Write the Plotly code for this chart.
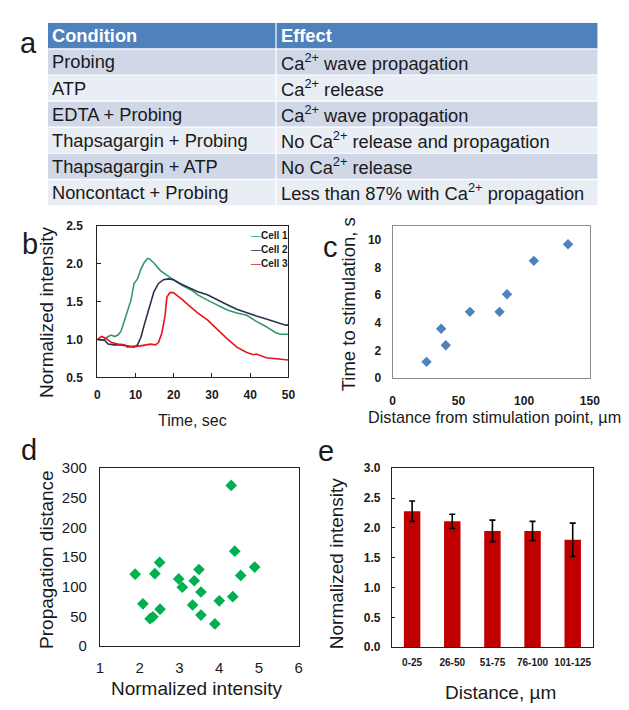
import plotly.graph_objects as go

W, H = 629, 710

# ---------------- data ----------------
table_header = ["Condition", "Effect"]
conditions = ["Probing", "ATP", "EDTA + Probing", "Thapsagargin + Probing",
              "Thapsagargin + ATP", "Noncontact + Probing"]
effects = ["Ca<sup>2+</sup> wave propagation", "Ca<sup>2+</sup> release",
           "Ca<sup>2+</sup> wave propagation", "No Ca<sup>2+</sup> release and propagation",
           "No Ca<sup>2+</sup> release", "Less than 87% with Ca<sup>2+</sup> propagation"]

series_names = ["Cell 1", "Cell 2", "Cell 3"]
cell1_t = [0, 1.5, 2.8, 3.7, 4.5, 5.4, 6.2, 7.1, 7.9, 8.8, 9.6, 10.5, 11.4, 12.2, 13.1, 13.5,
           14.8, 16.5, 19.0, 22.4, 25.0, 26.3, 28.8, 31.4, 34.0, 36.5, 39.1, 41.6, 44.2, 46.7, 48.0, 50]
cell1_v = [1.00, 0.99, 1.04, 1.06, 1.04, 1.06, 1.11, 1.26, 1.39, 1.52, 1.74, 1.80, 1.93, 2.01, 2.07, 2.07,
           2.01, 1.91, 1.82, 1.71, 1.64, 1.59, 1.52, 1.45, 1.39, 1.35, 1.32, 1.24, 1.17, 1.09, 1.07, 1.07]
cell2_t = [0, 1.9, 2.8, 4.5, 6.2, 7.9, 9.6, 10.5, 11.4, 12.2, 13.1, 13.9, 14.8, 16.0, 17.3, 18.6,
           19.9, 21.6, 23.7, 26.3, 28.8, 31.4, 34.0, 36.5, 39.1, 41.6, 44.2, 46.7, 49.3, 50]
cell2_v = [1.00, 0.99, 0.94, 0.93, 0.93, 0.91, 0.90, 0.93, 1.03, 1.18, 1.33, 1.48, 1.63, 1.74, 1.79, 1.80,
           1.79, 1.74, 1.69, 1.63, 1.59, 1.52, 1.46, 1.40, 1.35, 1.31, 1.27, 1.23, 1.19, 1.19]
cell3_t = [0, 1.1, 2.4, 3.7, 5.4, 7.1, 7.9, 9.2, 10.5, 12.2, 13.9, 15.2, 16.0, 16.9, 17.7, 18.2,
           19.0, 19.9, 21.2, 22.4, 23.7, 26.3, 28.8, 31.4, 34.0, 36.5, 39.1, 40.8, 41.6, 44.2, 46.7, 49.3, 50]
cell3_v = [1.00, 1.04, 1.01, 0.96, 0.94, 0.93, 0.90, 0.91, 0.91, 0.93, 0.94, 0.93, 0.96, 1.09, 1.31, 1.56,
           1.62, 1.62, 1.57, 1.52, 1.46, 1.35, 1.26, 1.13, 1.01, 0.90, 0.83, 0.80, 0.81, 0.76, 0.75, 0.73, 0.73]

c_distance = [25.8, 36.9, 40.4, 58.8, 81.3, 87.0, 107.4, 133.4]
c_time = [1.18, 3.58, 2.38, 4.8, 4.8, 6.07, 8.49, 9.69]

d_intensity = [1.885, 2.08, 2.26, 2.33, 2.38, 2.50, 2.51, 2.98, 3.07, 3.33, 3.37, 3.49, 3.54, 3.54,
               3.89, 4.00, 4.30, 4.34, 4.39, 4.54, 4.89]
d_distance = [121, 71, 46, 49, 122, 141, 62, 113, 99, 69, 110, 129, 91, 52,
              37, 76, 271, 83, 160, 119, 133]

e_categories = ["0-25", "26-50", "51-75", "76-100", "101-125"]
e_values = [2.28, 2.11, 1.95, 1.95, 1.80]
e_errors = [0.17, 0.12, 0.18, 0.16, 0.28]

# ---------------- style ----------------
FONT = "Liberation Sans, Arial, sans-serif"
TXT = "#1a1a1a"
line_colors = ["#2f9a68", "#2a3150", "#e8141c"]


def px_x(x):
    return x / W


def px_y(y):
    return 1 - y / H


fig = go.Figure()

# panel b
for name, t, v, col in zip(series_names, [cell1_t, cell2_t, cell3_t],
                           [cell1_v, cell2_v, cell3_v], line_colors):
    fig.add_trace(go.Scatter(x=t, y=v, mode="lines", name=name,
                             line=dict(color=col, width=1.6), xaxis="x", yaxis="y",
                             showlegend=False))

# panel c
fig.add_trace(go.Scatter(x=c_distance, y=c_time, mode="markers",
                         marker=dict(symbol="diamond", size=8, color="#4f81bd"),
                         xaxis="x2", yaxis="y2", showlegend=False))

# panel d
fig.add_trace(go.Scatter(x=d_intensity, y=d_distance, mode="markers",
                         marker=dict(symbol="diamond", size=9, color="#00b050"),
                         xaxis="x3", yaxis="y3", showlegend=False))

# panel e
fig.add_trace(go.Bar(x=e_categories, y=e_values, width=0.41,
                     marker=dict(color="#c00000", line=dict(width=0)),
                     error_y=dict(type="data", array=e_errors, visible=True,
                                  color="black", thickness=1.6, width=3),
                     xaxis="x4", yaxis="y4", showlegend=False))


def axis(domain, anchor, **kw):
    d = dict(domain=domain, anchor=anchor, showgrid=False, zeroline=False,
             showline=True, mirror=True, linecolor="#222", linewidth=1.2,
             ticks="", tickfont=dict(family=FONT, size=12, color=TXT))
    d.update(kw)
    return d


bold12 = dict(family=FONT, size=12, color=TXT, weight="bold")

layout = dict(
    width=W, height=H, margin=dict(l=0, r=0, t=0, b=0),
    paper_bgcolor="white", plot_bgcolor="white",
    font=dict(family=FONT, color=TXT),
    # b
    xaxis=axis([px_x(87.3), px_x(282.7)], "y", range=[0, 50], dtick=10,
               ticks="inside", ticklen=4, tickcolor="#222", tickfont=bold12,
               ticklabelstandoff=6),
    yaxis=axis([px_y(369.3), px_y(214)], "x", range=[0.5, 2.5], dtick=0.5,
               tickformat=".1f", ticks="inside", ticklen=4, tickcolor="#222",
               tickfont=bold12, ticklabelstandoff=11),
    # c
    xaxis2=axis([px_x(389.3), px_x(591)], "y2", range=[0, 150], dtick=50,
                linecolor="#8a8a8a", linewidth=1, tickfont=bold12, ticklabelstandoff=11),
    yaxis2=axis([px_y(370), px_y(214.3)], "x2", range=[0, 11], tickvals=[0, 2, 4, 6, 8, 10],
                linecolor="#8a8a8a", linewidth=1, tickfont=bold12, ticklabelstandoff=8),
    # d
    xaxis3=axis([px_x(90), px_x(293.3)], "y3", range=[1, 6], dtick=1,
                tickfont=dict(family=FONT, size=15, color=TXT), ticklabelstandoff=8),
    yaxis3=axis([px_y(644.3), px_y(462.3)], "x3", range=[0, 300], dtick=50,
                tickfont=dict(family=FONT, size=15, color=TXT), ticklabelstandoff=9),
    # e
    xaxis4=axis([px_x(388.7), px_x(594)], "y4", range=[-0.5, 4.5], type="category",
                tickfont=dict(family=FONT, size=10, color=TXT, weight="bold"),
                ticklabelstandoff=6),
    yaxis4=axis([px_y(645.7), px_y(462.3)], "x4", range=[0, 3], dtick=0.5, tickformat=".1f",
                tickfont=bold12, ticklabelstandoff=8, ticks="inside", ticklen=3, tickcolor="#222"),
    # table frame
    xaxis5=dict(domain=[px_x(36.7), px_x(599)], anchor="y5", range=[0, 1], visible=False,
                fixedrange=True),
    yaxis5=dict(domain=[px_y(193), px_y(6)], anchor="x5", range=[len(conditions) + 1, 0],
                visible=False, fixedrange=True),
    showlegend=False,
)
fig.update_layout(**layout)

# ---------------- table a ----------------
col_edges = [0, 0.415, 1]
shapes = []
annotations = []
n_rows = len(conditions) + 1
for i in range(n_rows):
    fill = "#4f81bd" if i == 0 else ("#d0d8e8" if i % 2 == 1 else "#e9edf4")
    shapes.append(dict(type="rect", xref="x5", yref="y5", x0=0, x1=1, y0=i, y1=i + 1,
                       fillcolor=fill, line=dict(width=0), layer="below"))
    if i > 0:
        shapes.append(dict(type="line", xref="x5", yref="y5", x0=0, x1=1, y0=i, y1=i,
                           line=dict(color="white", width=1.2)))
shapes.append(dict(type="line", xref="x5", yref="y5", x0=col_edges[1], x1=col_edges[1],
                   y0=0, y1=n_rows, line=dict(color="white", width=1.2)))

rows = [table_header] + [[c, e] for c, e in zip(conditions, effects)]
for i, row in enumerate(rows):
    for j, txt in enumerate(row):
        annotations.append(dict(
            xref="x5", yref="y5", x=col_edges[j], y=i + 0.5, xanchor="left", yanchor="middle",
            xshift=2.5, showarrow=False, text=("<b>%s</b>" % txt) if i == 0 else txt,
            font=dict(family=FONT, size=18.3, color="white" if i == 0 else TXT)))

# ---------------- panel letters ----------------
letters = [("a", 17, 27), ("b", 18, 233), ("c", 326, 236), ("d", 17, 444), ("e", 321, 445)]
for t, x, y in letters:
    annotations.append(dict(xref="paper", yref="paper", x=px_x(x), y=px_y(y), text=t,
                            showarrow=False, xanchor="center", yanchor="middle",
                            font=dict(family=FONT, size=29, color=TXT)))

# ---------------- axis titles ----------------
titles = [
    ("Normalized intensity", 36, 302, -90, 19),
    ("Time, sec", 185, 413, 0, 16),
    ("Time to stimulation, s", 345, 294, -90, 18.5),
    ("Distance from stimulation point, µm", 493, 410, 0, 16.2),
    ("Propagation distance", 35, 556, -90, 19),
    ("Normalized intensity", 189, 688, 0, 19),
    ("Normalized intensity", 332, 560, -90, 19),
    ("Distance, µm", 500, 692, 0, 19),
]
for t, x, y, ang, sz in titles:
    annotations.append(dict(xref="paper", yref="paper", x=px_x(x), y=px_y(y), text=t,
                            showarrow=False, xanchor="center", yanchor="middle", textangle=ang,
                            font=dict(family=FONT, size=sz, color=TXT)))

# ---------------- legend for b ----------------
for k, (name, col) in enumerate(zip(series_names, line_colors)):
    annotations.append(dict(
        xref="paper", yref="paper", x=px_x(242), y=px_y(224 + 14.5 * k),
        xanchor="left", yanchor="middle", showarrow=False,
        text="<span style='color:%s'>—</span><b>%s</b>" % (col, name),
        font=dict(family=FONT, size=10, color=TXT)))

fig.update_layout(shapes=shapes, annotations=annotations)
fig.write_html("out.html")
